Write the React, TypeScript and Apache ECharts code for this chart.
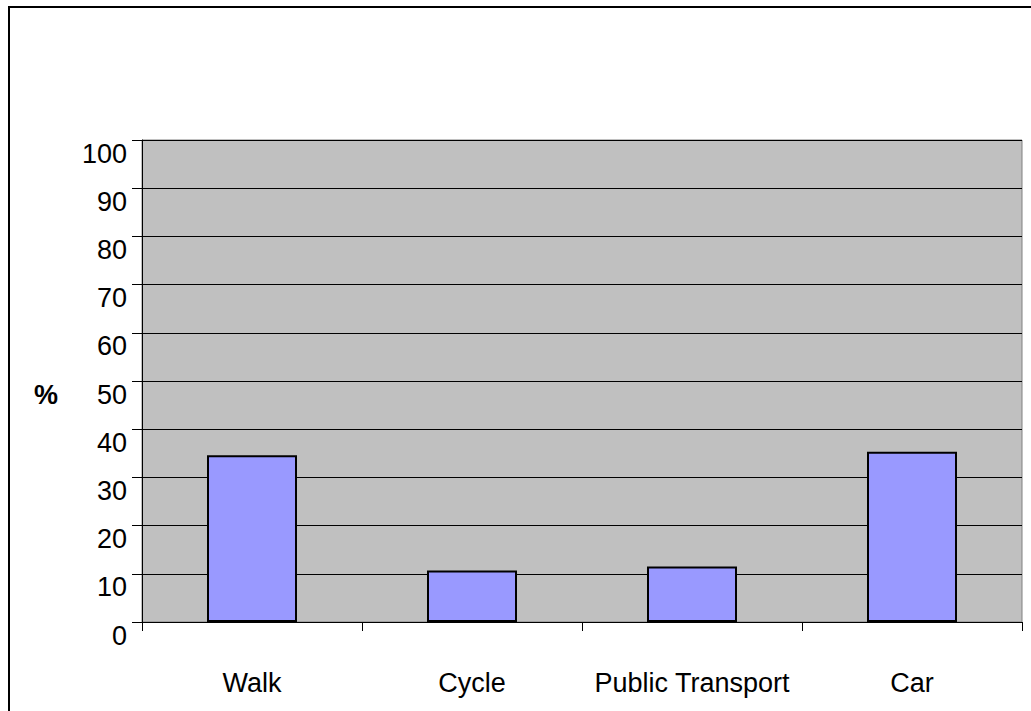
import React, { useEffect, useRef } from "react";
import * as echarts from "echarts";

const categories = ["Walk", "Cycle", "Public Transport", "Car"];
const values = [34.6, 10.7, 11.5, 35.3];
const yMin = 0;
const yMax = 100;
const yInterval = 10;

const FONT = '"Liberation Sans", Arial, sans-serif';

export default function App() {
  const ref = useRef<HTMLDivElement>(null);
  useEffect(() => {
    if (!ref.current) return;
    const chart = echarts.init(ref.current, undefined, { renderer: "svg" });
    chart.setOption({
      animation: false,
      backgroundColor: "#ffffff",
      graphic: [
        {
          type: "rect",
          shape: { x: 9, y: 7, width: 1040, height: 730 },
          style: { fill: "none", stroke: "#000000", lineWidth: 2 },
          silent: true,
        },
      ],
      grid: {
        left: 142,
        top: 140,
        width: 880,
        height: 482,
        show: true,
        backgroundColor: "#C0C0C0",
        borderColor: "#808080",
        borderWidth: 1,
      },
      xAxis: {
        type: "category",
        data: categories,
        boundaryGap: true,
        axisLine: { show: true, lineStyle: { color: "#000000", width: 1 } },
        axisTick: { show: true, length: 9, lineStyle: { color: "#000000" } },
        axisLabel: {
          color: "#000000",
          fontFamily: FONT,
          fontSize: 27,
          lineHeight: 30,
          interval: 0,
          margin: 46,
        },
        splitLine: { show: false },
      },
      yAxis: {
        type: "value",
        min: yMin,
        max: yMax,
        interval: yInterval,
        name: "%",
        nameLocation: "middle",
        nameRotate: 0,
        nameGap: 84,
        nameTextStyle: {
          color: "#000000",
          fontFamily: FONT,
          fontSize: 27,
          fontWeight: "bold",
          verticalAlign: "top",
          lineHeight: 27,
        },
        axisLine: { show: true, lineStyle: { color: "#000000", width: 1 } },
        axisTick: { show: true, length: 10, lineStyle: { color: "#000000" } },
        axisLabel: {
          color: "#000000",
          fontFamily: FONT,
          fontSize: 27,
          margin: 15,
          verticalAlign: "top",
          lineHeight: 27,
        },
        splitLine: { show: true, lineStyle: { color: "#000000", width: 1 } },
      },
      series: [
        {
          type: "bar",
          data: values,
          barWidth: 90,
          itemStyle: {
            color: "#9999FF",
            borderColor: "#000000",
            borderWidth: 2,
          },
        },
      ],
    });
    return () => chart.dispose();
  }, []);
  return (
    <div
      ref={ref}
      style={{ position: "fixed", left: 0, top: 0, width: 1031, height: 711 }}
    />
  );
}
